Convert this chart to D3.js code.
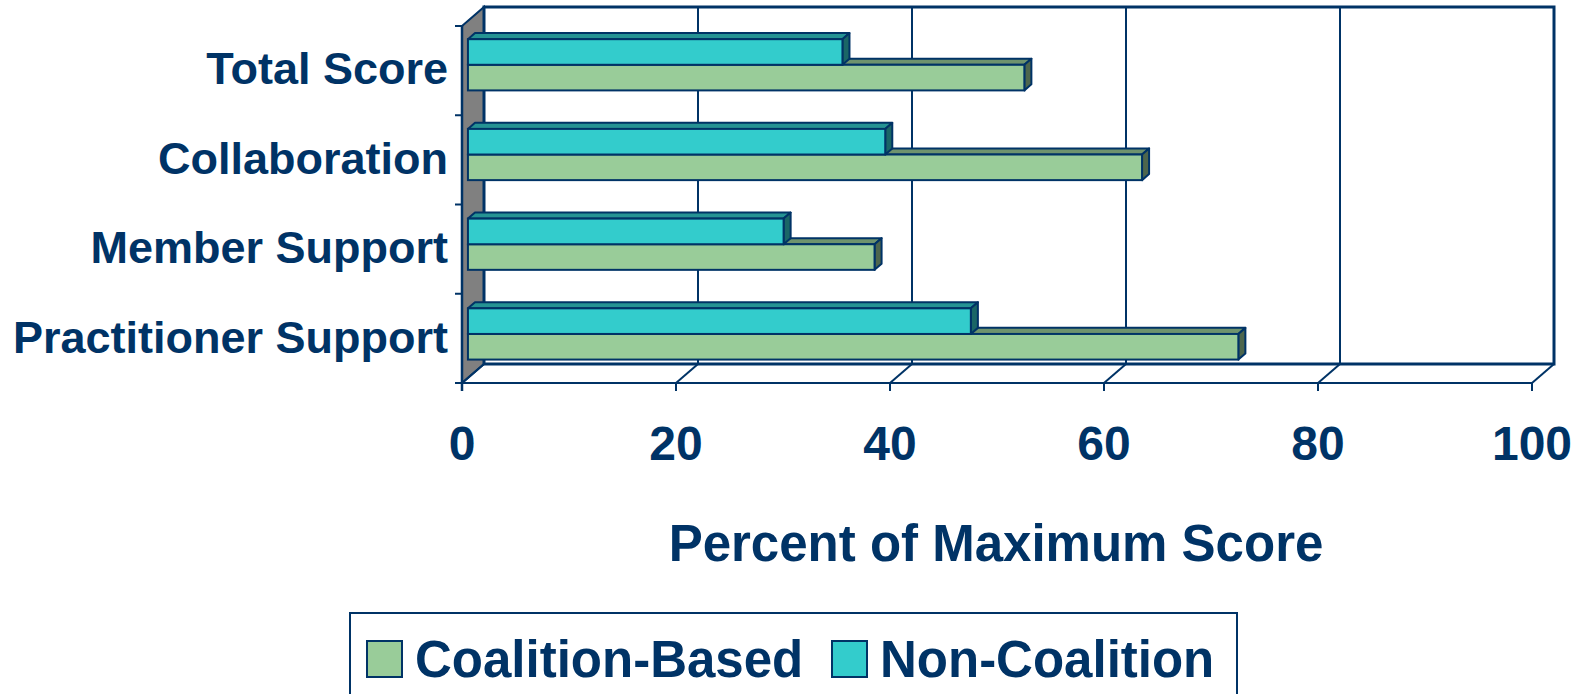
<!DOCTYPE html>
<html lang="en">
<head>
<meta charset="UTF-8">
<title>Percent of Maximum Score</title>
<script src="https://d3js.org/d3.v7.min.js"></script>
<style>
  body { margin: 0; background: #fff; }
  text { font-family: "Liberation Sans", Arial, sans-serif; font-weight: bold; fill: #003366; }
</style>
</head>
<body>
<script>
// data
var categories = ["Total Score", "Collaboration", "Member Support", "Practitioner Support"];
var seriesNames = ["Non-Coalition", "Coalition-Based"];   // top-to-bottom inside a category
var coalitionBased = [52, 63, 38, 72];
var nonCoalition = [35, 39, 29.5, 47];
var tickValues = [0, 20, 40, 60, 80, 100];
var legendNames = ["Coalition-Based", "Non-Coalition"];

var colors = { "Coalition-Based": "#99cc99", "Non-Coalition": "#33cccc" };
var navy = "#003366";

var width = 1592, height = 694;
var depthX = 22, depthY = -19;   // full floor depth offset

var svg = d3.select("body").append("svg")
    .attr("width", width)
    .attr("height", height);

var x = d3.scaleLinear().domain([0, 100]).range([462, 1532]);
var yAxis = d3.scaleBand().domain(categories).range([26, 383]);
var y0 = d3.scaleBand().domain(categories).range([26, 383])
    .paddingInner(0.429).paddingOuter(0.204);
var y1 = d3.scaleBand().domain(seriesNames).range([0, y0.bandwidth()]);

var plotL = x(0), plotR = x(100), plotT = yAxis.range()[0], plotB = yAxis.range()[1];

// gray side wall
svg.append("polygon")
    .attr("points", [[plotL, plotT], [plotL + depthX, plotT + depthY], [plotL + depthX, plotB + depthY], [plotL, plotB]].join(" "))
    .attr("fill", "#808080")
    .attr("stroke", navy)
    .attr("stroke-width", 2);

// back wall
svg.append("rect")
    .attr("x", plotL + depthX).attr("y", plotT + depthY)
    .attr("width", plotR - plotL).attr("height", plotB - plotT)
    .attr("fill", "#fff")
    .attr("stroke", navy)
    .attr("stroke-width", 3);

// gridlines on the back wall
svg.selectAll(".grid")
    .data(tickValues.slice(1, -1))
    .enter().append("line")
    .attr("x1", d => x(d) + depthX).attr("x2", d => x(d) + depthX)
    .attr("y1", plotT + depthY).attr("y2", plotB + depthY)
    .attr("stroke", navy).attr("stroke-width", 2);

// floor: front edge, diagonals, ticks
svg.append("line")
    .attr("x1", plotL - 7).attr("x2", plotR)
    .attr("y1", plotB).attr("y2", plotB)
    .attr("stroke", navy).attr("stroke-width", 2);

svg.selectAll(".diag")
    .data(tickValues)
    .enter().append("line")
    .attr("x1", d => x(d)).attr("y1", plotB)
    .attr("x2", d => x(d) + depthX).attr("y2", plotB + depthY)
    .attr("stroke", navy).attr("stroke-width", 2);

svg.selectAll(".xtick")
    .data(tickValues)
    .enter().append("line")
    .attr("x1", d => x(d)).attr("x2", d => x(d))
    .attr("y1", plotB).attr("y2", plotB + 8)
    .attr("stroke", navy).attr("stroke-width", 2);

// left axis line and ticks
svg.append("line")
    .attr("x1", plotL).attr("x2", plotL)
    .attr("y1", plotT).attr("y2", plotB + 8)
    .attr("stroke", navy).attr("stroke-width", 2.5);

var boundaries = categories.map(c => yAxis(c)).concat([plotB]);
svg.selectAll(".ytick")
    .data(boundaries)
    .enter().append("line")
    .attr("x1", plotL - 7).attr("x2", plotL)
    .attr("y1", d => d).attr("y2", d => d)
    .attr("stroke", navy).attr("stroke-width", 2);

// 3d bars
var t0 = 0.27, t1 = 0.59;
var dx0 = depthX * t0, dy0 = depthY * t0, dx1 = depthX * t1, dy1 = depthY * t1;

function shade(c, k) {
    var col = d3.rgb(c);
    return d3.rgb(col.r * k, col.g * k, col.b * k).formatHex();
}

var bars = [];
categories.forEach(function(c, i) {
    // lower bar first so the upper one sits on top of it
    bars.push({ cat: c, name: "Coalition-Based", value: coalitionBased[i] });
    bars.push({ cat: c, name: "Non-Coalition", value: nonCoalition[i] });
});

var g = svg.selectAll(".bar")
    .data(bars)
    .enter().append("g")
    .attr("class", "bar");

g.each(function(d) {
    var sel = d3.select(this);
    var xa = x(0), xb = x(d.value);
    var yt = y0(d.cat) + y1(d.name), yb = yt + y1.bandwidth();
    var col = colors[d.name];

    sel.append("polygon")
        .attr("points", [[xa + dx0, yt + dy0], [xb + dx0, yt + dy0], [xb + dx1, yt + dy1], [xa + dx1, yt + dy1]].join(" "))
        .attr("fill", shade(col, 0.72))
        .attr("stroke", navy).attr("stroke-width", 2).attr("stroke-linejoin", "round");

    sel.append("polygon")
        .attr("points", [[xb + dx0, yt + dy0], [xb + dx1, yt + dy1], [xb + dx1, yb + dy1], [xb + dx0, yb + dy0]].join(" "))
        .attr("fill", shade(col, 0.5))
        .attr("stroke", navy).attr("stroke-width", 2).attr("stroke-linejoin", "round");

    sel.append("rect")
        .attr("x", xa + dx0).attr("y", yt + dy0)
        .attr("width", xb - xa).attr("height", yb - yt)
        .attr("fill", col)
        .attr("stroke", navy).attr("stroke-width", 2);
});

// category labels
svg.selectAll(".cat")
    .data(categories)
    .enter().append("text")
    .attr("x", 448)
    .attr("y", d => y0(d) + y0.bandwidth() / 2 + dy0 + 19)
    .attr("text-anchor", "end")
    .style("font-size", "45px")
    .text(d => d);

// value tick labels
svg.selectAll(".xlab")
    .data(tickValues)
    .enter().append("text")
    .attr("x", d => x(d))
    .attr("y", 460)
    .attr("text-anchor", "middle")
    .style("font-size", "48px")
    .text(d => d);

svg.append("text")
    .attr("x", 996).attr("y", 561)
    .attr("text-anchor", "middle")
    .style("font-size", "51px")
    .text("Percent of Maximum Score");

// legend
svg.append("rect")
    .attr("x", 350).attr("y", 613)
    .attr("width", 887).attr("height", 120)
    .attr("fill", "#fff")
    .attr("stroke", navy).attr("stroke-width", 2);

var legendX = [367, 832];
var lg = svg.selectAll(".legend")
    .data(legendNames)
    .enter().append("g")
    .attr("transform", (d, i) => `translate(${legendX[i]},641)`);

lg.append("rect")
    .attr("width", 35).attr("height", 36)
    .attr("fill", d => colors[d])
    .attr("stroke", navy).attr("stroke-width", 2);

lg.append("text")
    .attr("x", 48).attr("y", 36)
    .style("font-size", "51px")
    .text(d => d);
</script>
</body>
</html>
